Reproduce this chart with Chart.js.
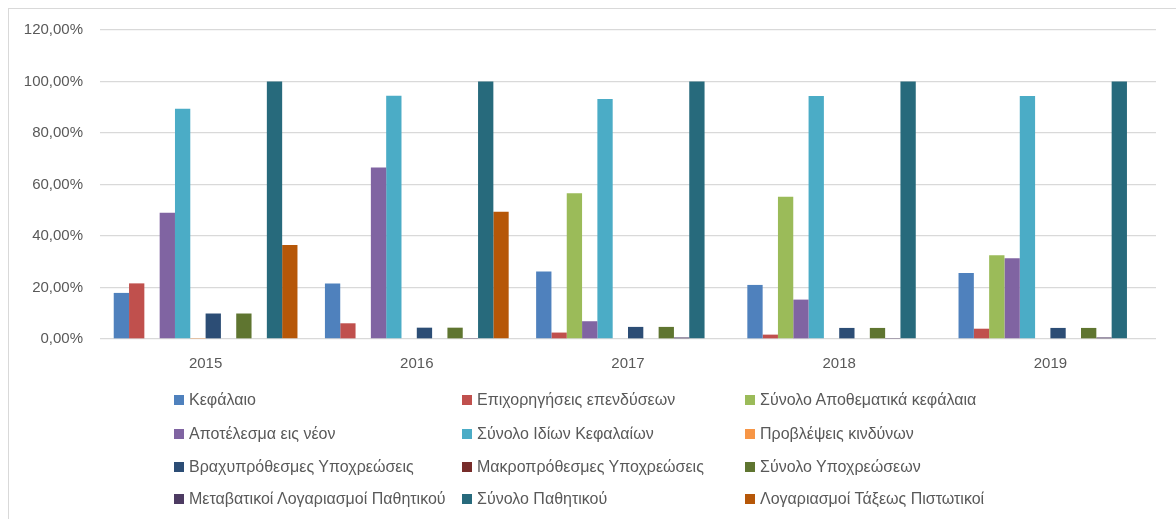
<!DOCTYPE html>
<html>
<head>
<meta charset="utf-8">
<script src="https://cdn.jsdelivr.net/npm/chart.js@4.4.0/dist/chart.umd.min.js"></script>
<style>
    body { margin: 0; background: #fff; }
    #wrap { position: relative; width: 1176px; height: 519px; overflow: hidden; }
    #frame { position: absolute; left: 8px; top: 8px; width: 1200px; height: 560px; border: 1px solid #D9D9D9; }
    #chartBox { position: absolute; left: 0; top: 4px; width: 1176px; height: 376px; }
    #legend { position: absolute; left: 0; top: 0; width: 1176px; height: 519px; font-family: "Liberation Sans", Arial, sans-serif; font-size: 16px; color: #595959; }
    .item { position: absolute; white-space: nowrap; line-height: 18px; }
    .box { display: inline-block; width: 10px; height: 10px; margin-right: 5px; vertical-align: 0px; }
</style>
</head>
<body>
<div id="wrap">
    <div id="frame"></div>
    <div id="chartBox"><canvas id="chart" width="1176" height="376"></canvas></div>
    <div id="legend"></div>
</div>
<script>
const years = ["2015", "2016", "2017", "2018", "2019"];

const kefalaio = [17.9, 21.6, 26.2, 21.0, 25.6];
const epixorigiseis = [21.6, 6.1, 2.5, 1.7, 4.0];
const synoloApothematika = [0, 0, 56.6, 55.2, 32.5];
const apotelesma = [49.0, 66.6, 6.9, 15.3, 31.4];
const synoloIdion = [89.4, 94.5, 93.2, 94.4, 94.4];
const provlepseis = [0.4, 0, 0, 0, 0];
const vraxyprothesmes = [9.9, 4.4, 4.7, 4.3, 4.3];
const makroprothesmes = [0, 0, 0, 0, 0];
const synoloYpoxreoseon = [9.9, 4.4, 4.7, 4.3, 4.3];
const metavatikoi = [0, 0.4, 0.6, 0.4, 0.6];
const synoloPathitikou = [100, 100, 100, 100, 100];
const taxeos = [36.5, 49.4, 0, 0, 0];

const yTicks = [0, 20, 40, 60, 80, 100, 120];

const seriesList = [
    ["Κεφάλαιο", kefalaio, "#4F81BD"],
    ["Επιχορηγήσεις επενδύσεων", epixorigiseis, "#C0504D"],
    ["Σύνολο Αποθεματικά κεφάλαια", synoloApothematika, "#9BBB59"],
    ["Αποτέλεσμα εις νέον", apotelesma, "#8064A2"],
    ["Σύνολο Ιδίων Κεφαλαίων", synoloIdion, "#4BACC6"],
    ["Προβλέψεις κινδύνων", provlepseis, "#F79646"],
    ["Βραχυπρόθεσμες Υποχρεώσεις", vraxyprothesmes, "#2C4D75"],
    ["Μακροπρόθεσμες Υποχρεώσεις", makroprothesmes, "#772C2A"],
    ["Σύνολο Υποχρεώσεων", synoloYpoxreoseon, "#5F7530"],
    ["Μεταβατικοί Λογαριασμοί Παθητικού", metavatikoi, "#4D3B62"],
    ["Σύνολο Παθητικού", synoloPathitikou, "#276A7C"],
    ["Λογαριασμοί Τάξεως Πιστωτικοί", taxeos, "#B65708"]
];

const tickFont = { family: "Liberation Sans", size: 15 };

const ctx = document.getElementById("chart").getContext("2d");
const chart = new Chart(ctx, {
    type: 'bar',
    data: {
        labels: years,
        datasets: seriesList.map(s => ({
            label: s[0],
            data: s[1],
            backgroundColor: s[2],
            borderWidth: 0
        }))
    },
    options: {
        responsive: false,
        animation: false,
        layout: { padding: { left: 0, right: 20, top: 22, bottom: 0 } },
        datasets: { bar: { categoryPercentage: 0.87, barPercentage: 1.0 } },
        plugins: {
            legend: { display: false },
            tooltip: { enabled: false }
        },
        scales: {
            x: {
                grid: { display: false, drawTicks: false },
                border: { display: false },
                ticks: { color: "#595959", font: tickFont, padding: 16 },
                afterFit: function(scale) { scale.height = 41; }
            },
            y: {
                min: 0,
                max: 120,
                afterBuildTicks: function(scale) { scale.ticks = yTicks.map(v => ({ value: v })); },
                grid: { color: "#D9D9D9", lineWidth: 1.3, drawTicks: false },
                border: { display: false },
                ticks: {
                    color: "#595959",
                    font: tickFont,
                    padding: 17,
                    callback: v => v.toFixed(2).replace(".", ",") + "%"
                },
                afterFit: function(scale) { scale.width = 100; }
            }
        }
    }
});

// legend laid out in 3 columns like the original
const colX = [174, 462, 745];
const rowY = [391, 425, 458, 490];
const legendDiv = document.getElementById("legend");
chart.data.datasets.forEach(function(ds, i) {
    const item = document.createElement("div");
    item.className = "item";
    item.style.left = colX[i % 3] + "px";
    item.style.top = rowY[Math.floor(i / 3)] + "px";
    const box = document.createElement("span");
    box.className = "box";
    box.style.background = ds.backgroundColor;
    item.appendChild(box);
    item.appendChild(document.createTextNode(ds.label));
    legendDiv.appendChild(item);
});
</script>
</body>
</html>
